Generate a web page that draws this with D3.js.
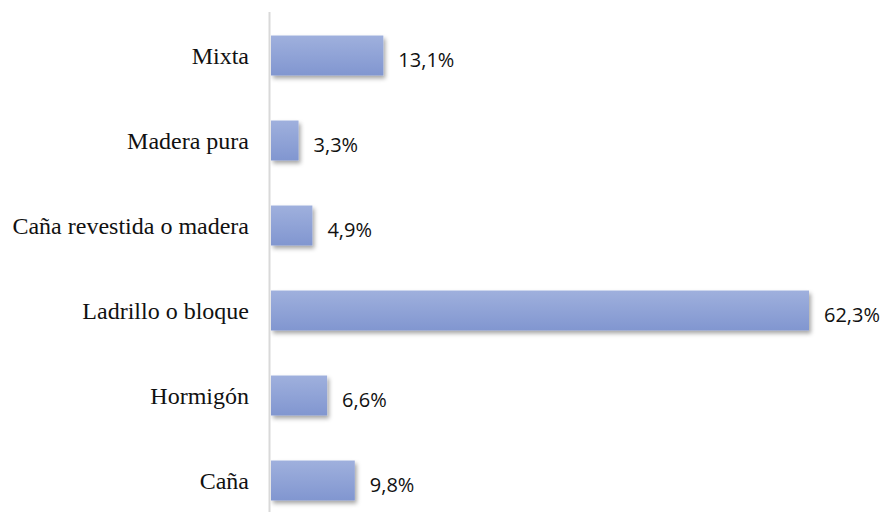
<!DOCTYPE html>
<html>
<head>
<meta charset="utf-8">
<script src="https://cdn.jsdelivr.net/npm/d3@7"></script>
<style>
  body { margin: 0; background: #fff; }
  .cat { font-family: "Liberation Serif", "Times New Roman", Times, "DejaVu Serif", serif; }
  .val { font-family: "Open Sans", "Liberation Sans", sans-serif; }
</style>
</head>
<body>
<svg class="plot"></svg>
<script>
// Data
const categories = ["Mixta", "Madera pura", "Caña revestida o madera", "Ladrillo o bloque", "Hormigón", "Caña"];
const values = [13.1, 3.3, 4.9, 62.3, 6.6, 9.8];
const valueLabels = ["13,1%", "3,3%", "4,9%", "62,3%", "6,6%", "9,8%"];

const W = 890, H = 512;
const svg = d3.select(".plot").attr("width", W).attr("height", H);

const x0 = 270;
const xScale = d3.scaleLinear().domain([0, 62.3]).range([x0, 809]);
const yScale = d3.scaleBand().domain(categories).range([13, 523]).paddingInner(0.53).paddingOuter(0.265);

// gradient + shadow
const defs = svg.append("defs");
const grad = defs.append("linearGradient").attr("id", "barGrad")
  .attr("x1", 0).attr("y1", 0).attr("x2", 0).attr("y2", 1);
grad.append("stop").attr("offset", "0%").attr("stop-color", "#9fb0dd");
grad.append("stop").attr("offset", "100%").attr("stop-color", "#8196d0");

const shadow = defs.append("filter").attr("id", "shadow")
  .attr("x", "-10%").attr("y", "-20%").attr("width", "130%").attr("height", "160%");
shadow.append("feDropShadow").attr("dx", 2).attr("dy", 3).attr("stdDeviation", 2)
  .attr("flood-color", "#000").attr("flood-opacity", 0.35);

const data = categories.map((c, i) => ({ cat: c, value: values[i], label: valueLabels[i] }));

// bars
svg.selectAll(".bar")
  .data(data)
  .join("rect")
  .attr("class", "bar")
  .attr("x", xScale(0) + 1)
  .attr("y", d => yScale(d.cat))
  .attr("width", d => xScale(d.value) - xScale(0) - 1)
  .attr("height", yScale.bandwidth())
  .attr("fill", "url(#barGrad)")
  .attr("filter", "url(#shadow)");

// axis line
svg.append("line")
  .attr("x1", x0 - 0.5).attr("x2", x0 - 0.5)
  .attr("y1", 12).attr("y2", H)
  .attr("stroke", "#d9d9d9").attr("stroke-width", 2);

// category labels
svg.selectAll(".cat")
  .data(data)
  .join("text")
  .attr("class", "cat")
  .attr("x", 249)
  .attr("y", d => yScale(d.cat) + yScale.bandwidth() / 2)
  .attr("dy", "0.35em")
  .attr("text-anchor", "end")
  .style("font-size", "24px")
  .attr("fill", "#111")
  .text(d => d.cat);

// value labels
svg.selectAll(".val")
  .data(data)
  .join("text")
  .attr("class", "val")
  .attr("x", d => xScale(d.value) + 15)
  .attr("y", d => yScale(d.cat) + yScale.bandwidth() / 2 + 4)
  .attr("dy", "0.35em")
  .style("font-size", "20px")
  .attr("fill", "#111")
  .text(d => d.label);
</script>
</body>
</html>
